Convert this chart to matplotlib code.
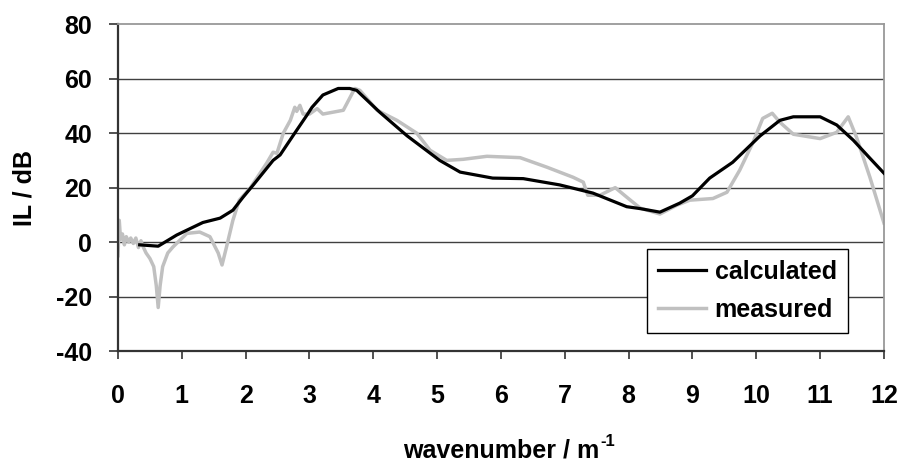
import matplotlib.pyplot as plt
import numpy as np

# calculated insertion loss
calc_k = [0.34, 0.63, 0.92, 1.33, 1.6, 1.8, 1.96, 2.12, 2.43, 2.54, 2.74, 2.96, 3.04, 3.21,
          3.45, 3.63, 3.74, 4.1, 4.53, 5.04, 5.36, 5.87, 6.35, 6.92, 7.44, 7.97, 8.18,
          8.49, 8.8, 9.0, 9.27, 9.63, 10.06, 10.37, 10.58, 11.0, 11.26, 11.52, 11.78, 12.0]
calc_il = [-1.0, -1.5, 2.6, 7.2, 8.8, 11.7, 16.5, 21.0, 30.0, 32.0, 39.0, 46.6, 49.5, 54.0,
           56.4, 56.4, 55.7, 47.7, 39.0, 30.0, 25.7, 23.5, 23.3, 21.0, 18.0, 13.0, 12.3,
           11.0, 14.3, 17.0, 23.5, 29.3, 39.0, 44.7, 46.0, 46.0, 43.0, 37.4, 30.8, 25.3]

# measured insertion loss
meas_k = [0.0, 0.02, 0.04, 0.07, 0.1, 0.13, 0.17, 0.2, 0.24, 0.28, 0.32, 0.36, 0.39, 0.44,
          0.5, 0.56, 0.6, 0.63, 0.66, 0.7, 0.78, 0.86, 1.08, 1.28, 1.44, 1.57, 1.63, 1.7,
          1.8, 1.9, 2.07, 2.33, 2.43, 2.49, 2.59, 2.7, 2.77, 2.8, 2.85, 2.9, 3.0, 3.12,
          3.21, 3.53, 3.71, 3.79, 4.06, 4.37, 4.68, 4.89, 5.15, 5.41, 5.78, 6.3, 6.72,
          7.13, 7.29, 7.36, 7.55, 7.79, 7.97, 8.18, 8.49, 8.76, 8.96, 9.32, 9.54, 9.74,
          9.95, 10.1, 10.25, 10.37, 10.58, 11.0, 11.26, 11.44, 11.57, 11.78, 12.0]
meas_il = [-5.0, 8.0, 1.0, 3.0, -1.0, 2.0, 0.0, 1.5, -0.5, 1.5, -2.0, 0.5, -1.5, -4.0,
           -6.0, -9.0, -16.0, -24.0, -16.0, -9.0, -4.0, -1.8, 3.2, 3.7, 2.0, -4.0, -8.4, -1.8,
           8.0, 15.4, 19.8, 29.0, 33.0, 32.6, 40.0, 44.7, 49.5, 48.0, 50.2, 47.0, 47.0, 49.0,
           47.0, 48.4, 56.4, 55.7, 48.4, 44.7, 40.0, 33.7, 30.0, 30.4, 31.5, 31.0, 27.5,
           23.8, 22.0, 17.2, 17.2, 20.0, 16.5, 12.5, 10.3, 13.6, 15.4, 16.0, 18.3, 26.4,
           36.7, 45.4, 47.3, 44.0, 39.6, 38.0, 40.3, 46.0, 38.5, 23.8, 7.0]

xticks = list(range(0, 13))
yticks = [-40, -20, 0, 20, 40, 60, 80]

plt.rcParams['font.family'] = ['Liberation Sans', 'DejaVu Sans']
plt.rcParams['font.weight'] = 'bold'
plt.rcParams['axes.unicode_minus'] = False

fig = plt.figure(figsize=(9.02, 4.65), dpi=100)
ax = fig.add_axes([0.1308, 0.245, 0.8492, 0.703])

ax.plot(calc_k, calc_il, color='black', lw=2.3, label='calculated', zorder=3)
ax.plot(meas_k, meas_il, color='#c0c0c0', lw=2.5, label='measured', zorder=2)

ax.set_xlim(0, 12)
ax.set_ylim(-40, 80)
ax.set_xticks(xticks)
ax.set_yticks(yticks)
ax.tick_params(axis='x', direction='out', length=6, width=1.2, pad=18, labelsize=18, color='#333333')
ax.tick_params(axis='y', direction='out', length=6.5, width=1.2, pad=12, labelsize=18, color='#333333')
for lab in ax.get_xticklabels() + ax.get_yticklabels():
    lab.set_fontweight('bold')

for y in [-20, 0, 20, 40, 60]:
    ax.axhline(y, color='#404040', lw=1.0, zorder=1)

ax.spines['left'].set_color('#333333')
ax.spines['bottom'].set_color('#333333')
ax.spines['left'].set_linewidth(1.6)
ax.spines['bottom'].set_linewidth(1.6)
ax.spines['top'].set_color('#999999')
ax.spines['right'].set_color('#999999')
ax.spines['top'].set_linewidth(1.3)
ax.spines['right'].set_linewidth(1.3)

ax.set_xlabel('wavenumber / m', fontsize=18, fontweight='bold', labelpad=22)
ax.annotate('-1', xy=(1, 1), xycoords=ax.xaxis.label, xytext=(1, -2),
            textcoords='offset points', ha='left', va='center', fontsize=12,
            fontweight='bold')
ax.set_ylabel('IL / dB', fontsize=18, fontweight='bold', labelpad=14)

leg = ax.legend(loc='lower right', bbox_to_anchor=(0.953, 0.055), fancybox=False,
                framealpha=1, edgecolor='black', fontsize=18, handlelength=1.9,
                handletextpad=0.35, borderpad=0.45, labelspacing=0.55, borderaxespad=0)
leg.get_frame().set_linewidth(1.0)
for t in leg.get_texts():
    t.set_fontweight('bold')

fig.savefig('out.png', dpi=100)
